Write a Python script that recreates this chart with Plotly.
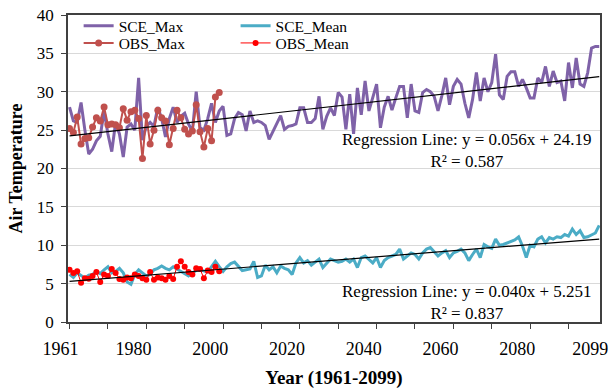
import numpy as np
import plotly.graph_objects as go

years = list(range(1961, 2100))
obs_years = list(range(1961, 2001))

sce_max = [
    28.0, 26.2, 26.0, 28.6, 25.0, 21.9, 22.5, 23.6, 24.2, 27.5,
    24.5, 22.2, 26.0, 24.5, 21.5, 25.4, 25.8, 25.0, 31.8, 23.7,
    25.5, 26.0, 25.5, 28.0, 26.5, 24.1, 26.5, 28.0, 26.0, 26.8,
    27.2, 25.8, 24.8, 30.0, 25.3, 25.0, 26.5, 28.5, 26.0, 27.5,
    28.1, 24.3, 24.5, 26.5, 27.3, 27.0, 24.9, 27.5, 26.0, 26.2,
    26.0, 25.6, 23.8, 24.8, 25.8, 26.9, 25.1, 25.5, 25.6, 25.8,
    27.9, 27.9, 26.0, 26.0, 26.5, 29.4, 25.1, 26.8, 27.9, 26.9,
    29.9, 29.3, 25.1, 29.7, 24.5, 30.5, 27.0, 31.4, 27.5, 29.2,
    31.0, 25.3, 28.0, 29.4, 27.6, 29.2, 30.7, 30.7, 26.6, 31.0,
    27.5, 27.3, 29.9, 30.3, 30.0, 29.4, 27.5, 29.5, 31.8, 28.3,
    30.7, 31.6, 31.0, 28.5, 26.6, 29.0, 32.5, 28.8, 31.8, 30.0,
    31.2, 34.9, 29.6, 29.0, 32.0, 32.6, 32.6, 30.7, 31.6, 30.5,
    29.2, 29.2, 31.8, 31.2, 33.3, 30.7, 32.7, 31.2, 31.4, 28.8,
    33.8, 30.5, 34.4, 31.0, 30.7, 32.5, 35.7, 35.9, 35.9,
]

sce_mean = [
    6.2, 5.8, 6.4, 6.0, 5.7, 6.1, 6.2, 6.6, 6.3, 6.8,
    7.2, 6.4, 6.6, 7.0, 6.4, 5.2, 4.9, 6.2, 6.8, 6.4,
    6.0, 6.2, 6.8, 7.0, 7.3, 7.0, 6.8, 7.2, 6.9, 6.6,
    6.3, 6.0, 6.4, 6.7, 6.8, 6.7, 6.5, 7.2, 7.9, 7.2,
    6.6, 7.2, 7.6, 7.8, 7.2, 6.7, 6.8, 6.9, 7.9, 5.8,
    6.0, 7.4, 6.8, 7.2, 6.4, 7.3, 7.0, 6.8, 6.2, 7.7,
    8.4, 7.7, 8.0, 7.4, 7.8, 8.2, 7.1, 7.7, 8.2, 8.0,
    7.8, 7.9, 8.2, 7.8, 8.2, 7.1, 8.4, 8.6, 8.2, 7.7,
    8.4, 7.1, 8.0, 8.4, 8.6, 8.8, 9.5, 8.2, 8.6, 9.0,
    8.8, 8.2, 9.0, 9.5, 9.7, 9.2, 8.6, 9.0, 9.3, 8.4,
    9.0, 9.2, 9.5, 9.0, 8.0, 8.8, 9.5, 8.4, 10.1, 9.8,
    9.6, 10.8, 10.0, 10.1, 10.3, 10.5, 10.7, 11.1, 9.9, 8.4,
    10.0, 9.8, 10.8, 11.1, 10.3, 11.0, 10.8, 11.1, 11.0, 11.4,
    11.2, 12.1, 11.4, 11.9, 11.0, 11.1, 11.3, 11.6, 12.6,
]

obs_max = [
    25.2, 24.7, 26.7, 23.2, 23.9, 24.0, 25.4, 26.6, 26.2, 28.0,
    25.7, 25.8, 25.7, 25.3, 27.8, 26.3, 27.4, 27.6, 26.5, 21.3,
    26.9, 23.2, 25.0, 27.6, 26.6, 26.2, 23.1, 25.2, 27.6, 26.6,
    25.1, 24.5, 24.9, 28.3, 24.8, 22.8, 25.2, 23.6, 29.3, 29.9,
]

obs_mean = [
    6.8, 6.4, 6.6, 5.1, 5.7, 5.65, 6.0, 6.5, 5.2, 6.2,
    6.0, 6.9, 6.4, 5.6, 5.5, 5.8, 5.7, 6.2, 6.0, 5.7,
    5.5, 6.5, 5.5, 5.8, 5.7, 5.5, 6.0, 5.6, 7.2, 7.9,
    7.2, 6.5, 6.2, 7.0, 6.9, 5.7, 6.7, 6.5, 7.2, 6.6,
]

# regression lines (x = year index, 1 = 1961)
reg_slope = [0.056, 0.040]
reg_intercept = ["24.19", "5.251"]
reg_r2 = ["0.587", "0.837"]
reg_label_x = [2064.5, 2064.5]
reg_label_y = [22.3, 2.5]

tick_years = [1961, 1980, 2000, 2020, 2040, 2060, 2080, 2099]
tick_text = ["1961", "1980", "2000", "2020", "2040", "2060", "2080", "2099"]

PURPLE = "#7F62A8"
CYAN = "#4BACC6"
DRED = "#C0504D"
RED = "#FF0000"
FONT = "Liberation Serif"

fig = go.Figure()
fig.add_trace(go.Scatter(x=years, y=sce_max, name="SCE_Max", mode="lines",
                         line=dict(color=PURPLE, width=3), legend="legend"))
fig.add_trace(go.Scatter(x=years, y=sce_mean, name="SCE_Mean", mode="lines",
                         line=dict(color=CYAN, width=3), legend="legend2"))
fig.add_trace(go.Scatter(x=obs_years, y=obs_max, name="OBS_Max", mode="lines+markers",
                         line=dict(color=DRED, width=2),
                         marker=dict(color=DRED, size=7, symbol="circle"), legend="legend3"))
fig.add_trace(go.Scatter(x=obs_years, y=obs_mean, name="OBS_Mean", mode="lines+markers",
                         line=dict(color=RED, width=1),
                         marker=dict(color=RED, size=6, symbol="circle"), legend="legend4"))

yrs = np.array(years)
idx = yrs - 1960
for k in range(2):
    fig.add_trace(go.Scatter(x=years, y=reg_slope[k] * idx + float(reg_intercept[k]),
                             xaxis="x2", mode="lines", line=dict(color="black", width=1.2),
                             showlegend=False, hoverinfo="skip"))
    fig.add_annotation(x=reg_label_x[k], y=reg_label_y[k], xref="x", yref="y",
                       text=f"Regression Line: y = {reg_slope[k]:.3f}x + {reg_intercept[k]}<br>R² = {reg_r2[k]}",
                       showarrow=False, align="center",
                       font=dict(family=FONT, size=17, color="black"))

leg_common = dict(xanchor="left", yanchor="top", bgcolor="rgba(0,0,0,0)",
                  font=dict(size=15.5), itemwidth=30)
fig.update_layout(
    width=616, height=389,
    margin=dict(l=68, r=16, t=15, b=67, autoexpand=False),
    paper_bgcolor="white", plot_bgcolor="white",
    font=dict(family=FONT, color="black", size=16),
    legend=dict(x=0.02, y=1.019, **leg_common),
    legend3=dict(x=0.02, y=0.963, **leg_common),
    legend2=dict(x=0.315, y=1.019, **leg_common),
    legend4=dict(x=0.315, y=0.963, **leg_common),
)

fig.update_layout(
    xaxis=dict(
        range=[1960.6, 2099.2], tickmode="linear", tick0=1961, dtick=10,
        ticks="outside", ticklen=5, tickcolor="#404040", showticklabels=False, automargin=False,
        showgrid=False, zeroline=False, showline=True, linecolor="#404040", linewidth=1.5, mirror=True,
    ),
    xaxis2=dict(
        overlaying="x", matches="x", anchor="y", side="bottom",
        tickmode="array", tickvals=tick_years, ticktext=tick_text,
        ticks="", ticklabelshift=-9, ticklabelstandoff=14, automargin=False,
        tickfont=dict(size=18, family=FONT),
        showgrid=False, zeroline=False, showline=False,
        title=dict(text="<b>Year (1961-2099)</b>", font=dict(size=19, family=FONT), standoff=12),
    ),
    yaxis=dict(
        range=[0, 40], tickmode="linear", tick0=0, dtick=5, automargin=False,
        ticks="outside", ticklen=5, tickcolor="#404040", ticklabelstandoff=4,
        tickfont=dict(size=17, family=FONT),
        showgrid=True, gridcolor="#D9D9D9", gridwidth=1, zeroline=False,
        showline=True, linecolor="#404040", linewidth=1.5, mirror=True,
        title=dict(text="<b>Air Temperature</b>", font=dict(size=18, family=FONT), standoff=10),
    ),
)

fig.write_html("out.html")
